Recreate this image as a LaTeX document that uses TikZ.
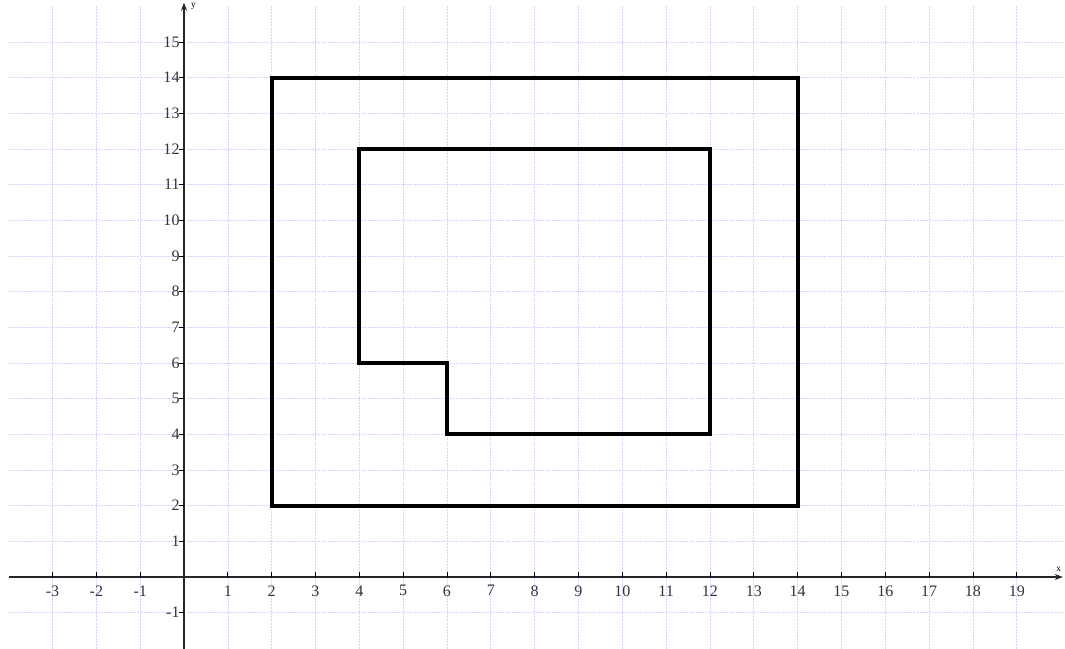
\documentclass[tikz,border=0pt]{standalone}
\usepackage{fontspec}
\setmainfont{Liberation Serif}
\usetikzlibrary{arrows.meta}
\tikzset{every picture/.style={line width=0.75pt}}
\definecolor{gridlav}{RGB}{212,212,252}
\tikzset{
  gridline/.style={draw=gridlav, line width=0.5pt, dash pattern=on 1.5pt off 0.8pt},
  axisline/.style={draw=black!85, line width=1.1pt, -{Stealth[length=6pt,width=4.5pt]}},
  ticklabel/.style={inner sep=0pt, font=\fontsize{12}{14}\selectfont, text=black!80},
  axislabel/.style={inner sep=0pt, font=\fontsize{7}{8}\selectfont},
  outline/.style={line width=3pt, line join=miter},
}

\begin{document}
\begin{tikzpicture}[x=32.87pt,y=26.75pt]
\useasboundingbox (-4.198,-2.0185) rectangle (20.1,16.176);

% grid
\foreach \gx in {-3,...,19} {
  \draw[gridline] (\gx,-2.02) -- (\gx,16);
}
\foreach \gy in {-1,...,15} {
  \draw[gridline] (-4,\gy) -- (20.05,\gy);
}

% axes
\draw[axisline] (-4,0) -- (20.05,0) coordinate (xend);
\draw[axisline] (0,-2.02) -- (0,16.1) coordinate (yend);
\node[axislabel, anchor=south] (xlab) at ([xshift=-3pt,yshift=4pt]xend) {x};
\node[axislabel, anchor=west] (ylab) at ([xshift=5pt,yshift=-3pt]yend) {y};

% ticks and labels
\foreach \tx in {-3,...,-1,1,2,...,19} {
  \draw[line width=0.6pt] (\tx,0) -- ++(0,4pt);
  \node[ticklabel, anchor=north] (lx\tx) at ([yshift=-6pt]\tx,0) {\tx};
}
\foreach \ty in {-1,1,2,...,15} {
  \draw[line width=0.6pt] (0,\ty) -- ++(-4pt,0);
  \node[ticklabel, anchor=east] (ly\ty) at ([xshift=-3pt]0,\ty) {\ty};
}

% outer square
\draw[outline] (2,2) rectangle (14,14);
% inner shape
\draw[outline] (4,12) -- (12,12) -- (12,4) -- (6,4) -- (6,6) -- (4,6) -- cycle;

\end{tikzpicture}
\end{document}
